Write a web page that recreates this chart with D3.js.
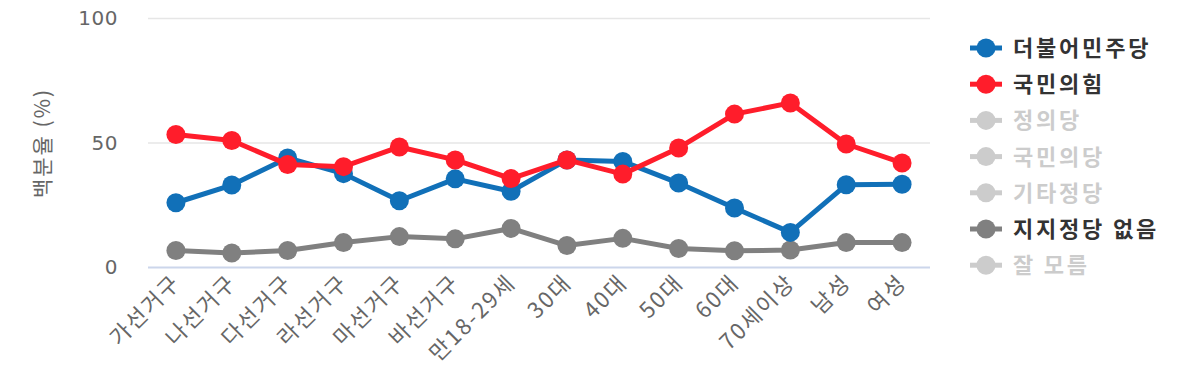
<!DOCTYPE html>
<html><head><meta charset="utf-8">
<script src="https://cdn.jsdelivr.net/npm/d3@7"></script>
<style>body{margin:0;background:#fff;}svg{display:block;font-family:"Noto Sans CJK KR","Noto Sans",sans-serif;}</style>
</head><body><svg id="c" width="1200" height="383"></svg>
<script>
const categories = ["가선거구","나선거구","다선거구","라선거구","마선거구","바선거구","만18-29세","30대","40대","50대","60대","70세이상","남성","여성"];
const minjoo = [25.8,32.9,43.8,37.5,26.6,35.4,30.4,43.0,42.4,33.7,23.7,13.9,33.0,33.2];
const ppp    = [53.2,50.8,41.2,40.3,48.2,43.0,35.5,43.0,37.3,47.8,61.4,65.9,49.4,41.8];
const none   = [6.6,5.6,6.6,9.8,12.2,11.3,15.5,8.6,11.5,7.4,6.5,6.8,9.8,9.8];
const yTicks = [0,50,100];
const legendNames = ["더불어민주당","국민의힘","정의당","국민의당","기타정당","지지정당 없음","잘 모름"];
const legendColors = ["#1170b8","#ff1d2b","#cccccc","#cccccc","#cccccc","#808080","#cccccc"];
const legendActive = [true,true,false,false,false,true,false];
const yTitle = "백분율 (%)";

const svg = d3.select("#c");
const x = d3.scaleBand().domain(categories).range([148,930]);
const y = d3.scaleLinear().domain([0,100]).range([267,18]);

svg.append("g").selectAll("line").data(yTicks).join("line")
  .attr("x1",148).attr("x2",930).attr("y1",d=>y(d)+0.5).attr("y2",d=>y(d)+0.5)
  .attr("stroke",d=>d===0?"#ccd6eb":"#e6e6e6").attr("stroke-width",d=>d===0?2:1.5);

svg.append("g").selectAll("text").data(yTicks).join("text")
  .attr("x",118).attr("y",d=>y(d)+7).attr("text-anchor","end")
  .attr("fill","#666").style("font-size","20px").style("font-family","'DejaVu Sans','Noto Sans',sans-serif")
  .style("letter-spacing","0.5px")
  .text(d=>d);

svg.append("text").attr("transform","translate(50,143) rotate(-90)")
  .attr("text-anchor","middle").attr("fill","#666").style("font-size","21px").style("letter-spacing","2px").text(yTitle);

svg.append("g").selectAll("text").data(categories).join("text")
  .attr("transform",d=>`translate(${x(d)+x.bandwidth()/2+6},${284}) rotate(-45)`)
  .attr("text-anchor","end").attr("fill","#666").style("font-size","22px").style("letter-spacing","2px").text(d=>d);

const cx = d=>x(d)+x.bandwidth()/2;
const series = [
  {vals:none,color:"#808080"},
  {vals:minjoo,color:"#1170b8"},
  {vals:ppp,color:"#ff1d2b"}
];
const line = d3.line().x((d,i)=>cx(categories[i])).y(d=>y(d));
series.forEach(s=>{
  const g = svg.append("g");
  g.append("path").attr("d",line(s.vals)).attr("fill","none").attr("stroke",s.color)
   .attr("stroke-width",5).attr("stroke-linejoin","round");
  g.selectAll("circle").data(s.vals).join("circle")
   .attr("cx",(d,i)=>cx(categories[i])).attr("cy",d=>y(d)).attr("r",9.5).attr("fill",s.color);
});

const lg = svg.append("g");
legendNames.forEach((n,i)=>{
  const yy = 48 + i*36.2;
  lg.append("line").attr("x1",970).attr("x2",1002).attr("y1",yy).attr("y2",yy)
    .attr("stroke",legendColors[i]).attr("stroke-width",5);
  lg.append("circle").attr("cx",986).attr("cy",yy).attr("r",9.5).attr("fill",legendColors[i]);
  lg.append("text").attr("x",1013).attr("y",yy+8).attr("fill",legendActive[i]?"#333":"#cccccc")
    .style("font-size","22px").style("font-weight","bold").style("letter-spacing","2.8px").text(n);
});
</script></body></html>
